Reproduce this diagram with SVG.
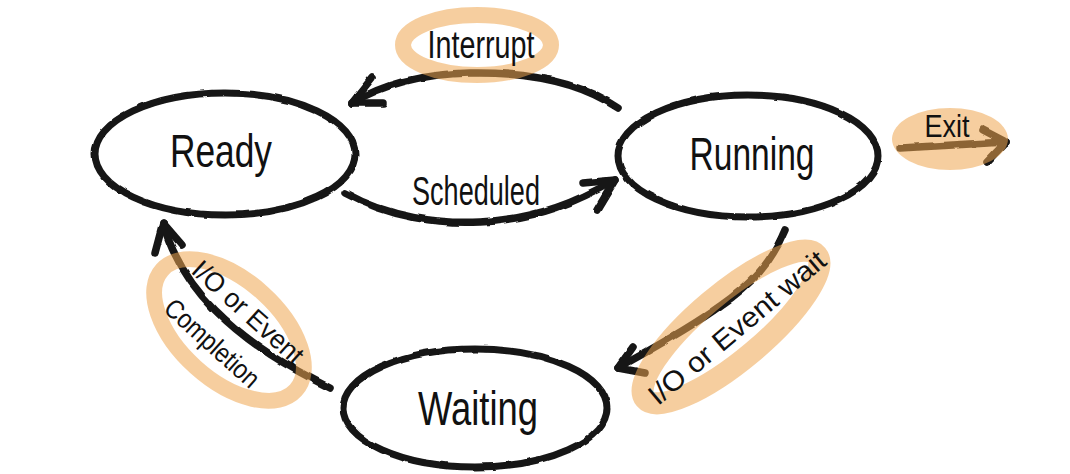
<svg xmlns="http://www.w3.org/2000/svg" width="1070" height="474" viewBox="0 0 1070 474">
  <style>
    .state { fill: none; stroke: #151515; stroke-width: 7; }
    .edge { fill: none; stroke: #161616; stroke-width: 7.5; stroke-linecap: round; stroke-linejoin: round; }
    .hl { fill: none; stroke: #eea650; opacity: 0.55; }
    .hlfill { fill: #eea650; opacity: 0.55; }
    .name { font-family: "Liberation Sans", "DejaVu Sans", sans-serif; fill: #111; text-anchor: middle; }
    .lbl { font-family: "Liberation Sans", "DejaVu Sans", sans-serif; fill: #111; text-anchor: middle; }
  </style>
  <defs>
    <!-- slight wobble so lines look hand-drawn -->
    <filter id="rough" x="-5%" y="-5%" width="110%" height="110%">
      <feTurbulence type="fractalNoise" baseFrequency="0.06" numOctaves="2" seed="3" result="t"/>
      <feDisplacementMap in="SourceGraphic" in2="t" scale="3" xChannelSelector="R" yChannelSelector="G"/>
    </filter>
  </defs>

  <rect width="1070" height="474" fill="#ffffff"/>

  <!-- connectors -->
  <g id="connectors" filter="url(#rough)">
    <!-- Running -> Ready : Interrupt -->
    <path class="edge" d="M618,108 C580,82 530,72 470,73 C420,74 380,86 352,103"/>
    <path class="edge" d="M372,78 L352,103 L383,103"/>
    <!-- Ready -> Running : Scheduled -->
    <path class="edge" d="M345,193 C390,218 440,224 480,222 C540,219 580,200 615,180"/>
    <path class="edge" d="M583,183 L615,180 L597,210"/>
    <!-- Running -> exit -->
    <path class="edge" d="M900,148 L1006,142"/>
    <path class="edge" d="M983,130 L1006,142 L987,162"/>
    <!-- Running -> Waiting : I/O or Event wait -->
    <path class="edge" d="M785,230 C772,262 752,284 720,306 C690,328 650,350 618,368"/>
    <path class="edge" d="M633,347 L618,368 L645,373"/>
    <!-- Waiting -> Ready : I/O or Event Completion -->
    <path class="edge" d="M330,388 C290,368 250,345 215,310 C190,285 172,255 163,223"/>
    <path class="edge" d="M155,253 L163,223 L182,245"/>
  </g>

  <!-- marker highlights behind labels -->
  <g id="highlights">
    <ellipse class="hl" cx="477" cy="45" rx="74" ry="30" stroke-width="16"/>
    <ellipse class="hlfill" cx="950" cy="139" rx="58" ry="31"/>
    <ellipse class="hl" cx="731" cy="327" rx="112" ry="33" stroke-width="22" transform="rotate(-40 731 327)"/>
    <ellipse class="hl" cx="229" cy="330" rx="90" ry="50" stroke-width="16" transform="rotate(42 229 330)"/>
  </g>

  <!-- states -->
  <g id="ready">
    <ellipse class="state" cx="225" cy="154" rx="130" ry="61" filter="url(#rough)"/>
    <text class="name" x="221" y="167" font-size="46" textLength="102" lengthAdjust="spacingAndGlyphs">Ready</text>
  </g>
  <g id="running">
    <ellipse class="state" cx="748" cy="156" rx="130" ry="61" filter="url(#rough)"/>
    <text class="name" x="752" y="170" font-size="46" textLength="125" lengthAdjust="spacingAndGlyphs">Running</text>
  </g>
  <g id="waiting">
    <ellipse class="state" cx="475" cy="408" rx="132" ry="59" filter="url(#rough)"/>
    <text class="name" x="478" y="425" font-size="48" textLength="120" lengthAdjust="spacingAndGlyphs">Waiting</text>
  </g>

  <!-- transition labels -->
  <g id="labels">
    <text class="lbl" x="481" y="58" font-size="38" textLength="107" lengthAdjust="spacingAndGlyphs">Interrupt</text>
    <text class="lbl" x="476" y="205" font-size="40" textLength="128" lengthAdjust="spacingAndGlyphs">Scheduled</text>
    <text class="lbl" x="947" y="137" font-size="32" textLength="45" lengthAdjust="spacingAndGlyphs">Exit</text>
    <text class="lbl" x="743" y="335" font-size="28" textLength="222" lengthAdjust="spacingAndGlyphs" transform="rotate(-40 743 335)">I/O or Event wait</text>
    <text class="lbl" x="242" y="319" font-size="27" textLength="140" lengthAdjust="spacingAndGlyphs" transform="rotate(42 242 319)">I/O or Event</text>
    <text class="lbl" x="206" y="350" font-size="27" textLength="118" lengthAdjust="spacingAndGlyphs" transform="rotate(42 206 350)">Completion</text>
  </g>
</svg>
